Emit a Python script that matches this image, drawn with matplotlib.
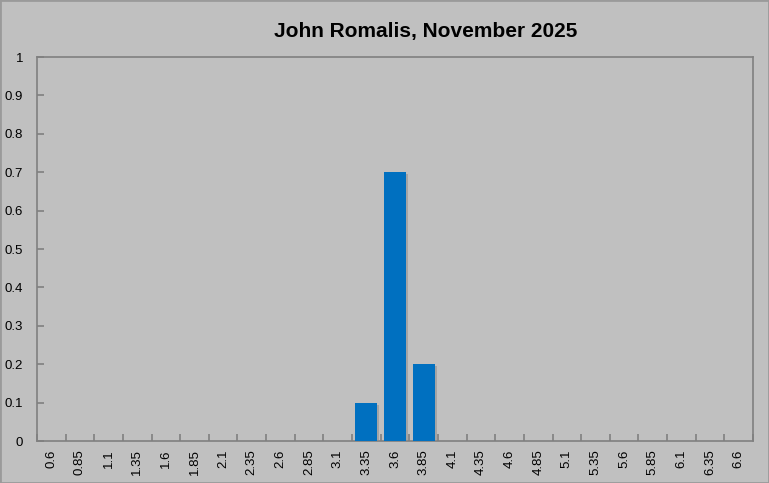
import numpy as np
import matplotlib
matplotlib.use('Agg')
import matplotlib.pyplot as plt
import matplotlib.patheffects as pe

# category labels and shares
categories = ['0.6', '0.85', '1.1', '1.35', '1.6', '1.85', '2.1', '2.35', '2.6',
              '2.85', '3.1', '3.35', '3.6', '3.85', '4.1', '4.35', '4.6', '4.85',
              '5.1', '5.35', '5.6', '5.85', '6.1', '6.35', '6.6']
values = [0, 0, 0, 0, 0, 0, 0, 0, 0,
          0, 0, 0.1, 0.7, 0.2, 0, 0, 0, 0,
          0, 0, 0, 0, 0, 0, 0]
title = 'John Romalis, November 2025'

BG = '#c0c0c0'
AX_COL = '#808080'

plt.rcParams['font.family'] = ['Liberation Sans', 'DejaVu Sans']

fig = plt.figure(figsize=(7.69, 4.83), dpi=100, facecolor=BG)
fig.patches.append(plt.Rectangle((0, 0), 1, 1, transform=fig.transFigure,
                                 fill=False, edgecolor='#9a9a9a', linewidth=2))
ax = fig.add_axes([37 / 769, 42 / 483, 716 / 769, 384 / 483])
ax.set_facecolor(BG)

x = np.arange(len(categories))
bars = ax.bar(x, values, width=0.77, color='#0070c0', zorder=3)
for b in bars:
    b.set_path_effects([pe.SimplePatchShadow(offset=(1.5, -1.5), shadow_rgbFace='#8a8a8a', alpha=0.5),
                        pe.Normal()])

ax.set_xlim(-0.5, len(categories) - 0.5)
ax.set_ylim(0, 1)
ax.set_yticks(np.arange(0, 1.01, 0.1))
ax.set_yticklabels(['0'] + [f'{v:.1f}' for v in np.arange(0.1, 0.95, 0.1)] + ['1'])
ax.set_xticks(x)
ax.set_xticklabels(categories, rotation=90)
ax.set_xticks(np.arange(-0.5, len(categories), 1), minor=True)

for s in ax.spines.values():
    s.set_color(AX_COL)
    s.set_linewidth(1.2)

ax.tick_params(axis='x', which='major', length=0, pad=6, labelsize=9.5, colors='black')
ax.tick_params(axis='x', which='minor', direction='in', length=5, color=AX_COL, width=1.2)
ax.tick_params(axis='y', direction='in', length=5, color=AX_COL, width=1.2,
               labelsize=9.5, labelcolor='black', pad=10)

fig.text(426 / 769, 1 - 31 / 483, title, ha='center', va='center',
         fontsize=15, fontweight='bold',
         family=['Liberation Sans Narrow', 'Liberation Sans', 'DejaVu Sans'])

fig.savefig('out.png', dpi=100, facecolor=BG)
